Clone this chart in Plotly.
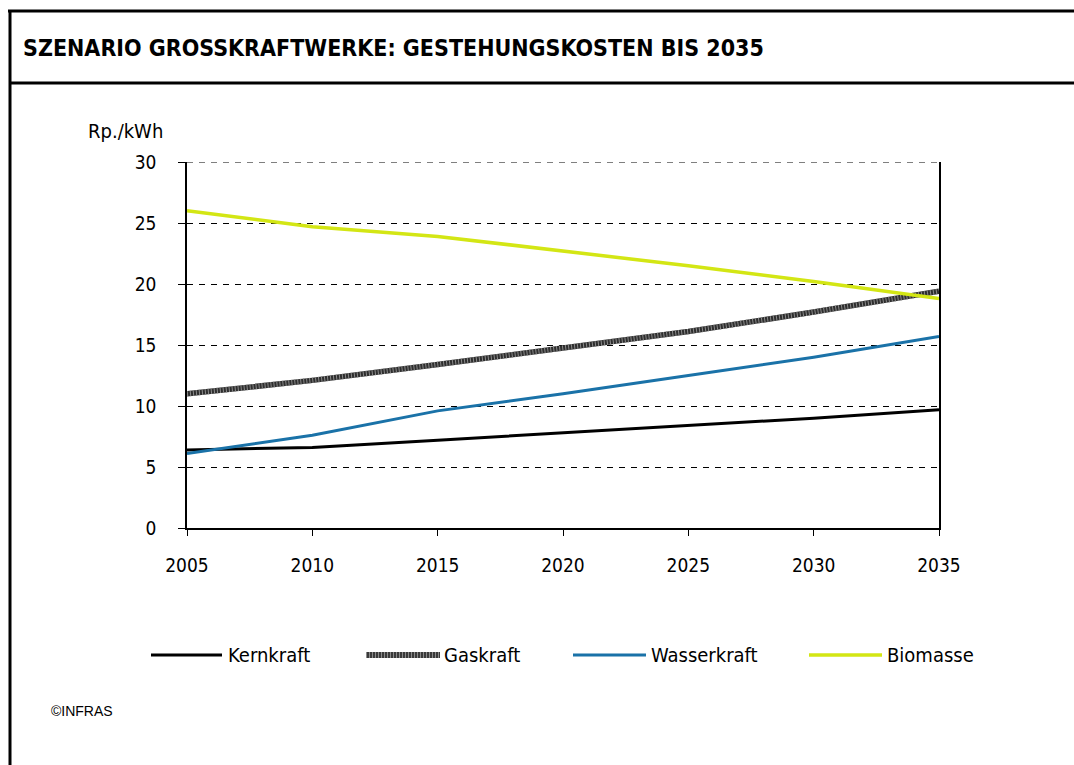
import plotly.graph_objects as go

years = [2005, 2010, 2015, 2020, 2025, 2030, 2035]
kernkraft = [6.4, 6.6, 7.2, 7.8, 8.4, 9.0, 9.7]
gaskraft = [11.0, 12.1, 13.4, 14.7, 16.1, 17.7, 19.4]
wasserkraft = [6.1, 7.6, 9.6, 11.0, 12.5, 14.0, 15.7]
biomasse = [26.0, 24.7, 23.9, 22.7, 21.5, 20.2, 18.8]

series_names = ["Kernkraft", "Gaskraft", "Wasserkraft", "Biomasse"]
y_ticks = [0, 5, 10, 15, 20, 25, 30]
x_ticks = years

title_text = "SZENARIO GROSSKRAFTWERKE: GESTEHUNGSKOSTEN BIS 2035"
unit_text = "Rp./kWh"
credit_text = "©INFRAS"

W, H = 1074, 765
L, R, T, B = 187, 939, 162, 528  # plot area in pixels

FONT = "DejaVu Sans Condensed, Liberation Sans Narrow, Roboto Condensed, Noto Sans, sans-serif"

def px(x):
    return (x - L) / (R - L)

def py(y):
    return (B - y) / (B - T)

fig = go.Figure()

fig.add_trace(go.Scatter(x=years, y=kernkraft, mode="lines", name=series_names[0],
                         line=dict(color="#000000", width=3), showlegend=False))
fig.add_trace(go.Scatter(x=years, y=gaskraft, mode="lines", name=series_names[1],
                         line=dict(color="#2e2e2e", width=5.5), showlegend=False))
fig.add_trace(go.Scatter(x=years, y=gaskraft, mode="lines", name=series_names[1],
                         line=dict(color="#8a8a8a", width=5.5, dash="1px,2px"),
                         showlegend=False, hoverinfo="skip"))
fig.add_trace(go.Scatter(x=years, y=wasserkraft, mode="lines", name=series_names[2],
                         line=dict(color="#1a72a8", width=3), showlegend=False))
fig.add_trace(go.Scatter(x=years, y=biomasse, mode="lines", name=series_names[3],
                         line=dict(color="#d3e614", width=3.5), showlegend=False))

shapes = []
annotations = []

# outer frame
shapes.append(dict(type="line", xref="paper", yref="paper", x0=px(8), x1=px(1080),
                   y0=py(11), y1=py(11), line=dict(color="black", width=3)))
shapes.append(dict(type="line", xref="paper", yref="paper", x0=px(10), x1=px(10),
                   y0=py(10), y1=py(770), line=dict(color="black", width=3)))
shapes.append(dict(type="line", xref="paper", yref="paper", x0=px(10), x1=px(1080),
                   y0=py(83), y1=py(83), line=dict(color="black", width=3)))

# dashed gridline at the top of the value axis
shapes.append(dict(type="line", xref="paper", yref="y", x0=0, x1=1,
                   y0=y_ticks[-1], y1=y_ticks[-1],
                   line=dict(color="black", width=1, dash="6px,6px"), layer="below"))

annotations.append(dict(text="<b>" + title_text + "</b>", xref="paper", yref="paper",
                        x=px(21), y=py(48), xanchor="left", yanchor="middle",
                        showarrow=False, font=dict(family=FONT, size=23, color="black")))
annotations.append(dict(text=unit_text, xref="paper", yref="paper",
                        x=px(86), y=py(131), xanchor="left", yanchor="middle",
                        showarrow=False, font=dict(family=FONT, size=20, color="black")))
annotations.append(dict(text=credit_text, xref="paper", yref="paper",
                        x=px(49), y=py(711), xanchor="left", yanchor="middle",
                        showarrow=False, font=dict(family="Liberation Sans, Arial", size=14, color="black")))

# legend (manual, to match the Excel layout)
legend_items = [
    (series_names[0], 151, 222, 226, dict(color="#000000", width=3)),
    (series_names[1], 366, 440, 442, dict(color="#3a3a3a", width=6)),
    (series_names[2], 573, 646, 649, dict(color="#1a72a8", width=3)),
    (series_names[3], 809, 882, 885, dict(color="#d3e614", width=3.5)),
]
ly = 655
for name, x0, x1, tx, ln in legend_items:
    shapes.append(dict(type="line", xref="paper", yref="paper", x0=px(x0), x1=px(x1),
                       y0=py(ly), y1=py(ly), line=ln))
    if name == series_names[1]:
        shapes.append(dict(type="line", xref="paper", yref="paper", x0=px(x0), x1=px(x1),
                           y0=py(ly), y1=py(ly), line=dict(color="#8a8a8a", width=6, dash="1px,2px")))
    annotations.append(dict(text=name, xref="paper", yref="paper", x=px(tx), y=py(ly),
                            xanchor="left", yanchor="middle", showarrow=False,
                            font=dict(family=FONT, size=20, color="black")))

fig.update_layout(
    width=W, height=H,
    margin=dict(l=L, r=W - R, t=T, b=H - B, pad=0),
    paper_bgcolor="white", plot_bgcolor="white",
    showlegend=False,
    shapes=shapes, annotations=annotations,
    font=dict(family=FONT, size=19, color="black"),
)
fig.update_xaxes(range=[2005, 2035], tickvals=x_ticks, ticktext=[str(v) for v in x_ticks],
                 showgrid=False, zeroline=False, showline=True, linecolor="black", linewidth=1.5,
                 ticks="outside", ticklen=6, tickcolor="black", tickwidth=1,
                 ticklabelstandoff=13, tickfont=dict(family=FONT, size=19))
fig.update_yaxes(range=[0, 30], tickvals=y_ticks, showgrid=True, gridcolor="black",
                 gridwidth=1, griddash="6px,6px", zeroline=False, showline=True, mirror=True,
                 linecolor="black", linewidth=1.5, ticks="outside", ticklen=7,
                 tickcolor="black", tickwidth=1, ticklabelstandoff=18,
                 tickfont=dict(family=FONT, size=19))

fig.write_html("out.html", config={"displayModeBar": False},
               post_script="document.body.style.margin='0';document.body.style.overflow='hidden';")
